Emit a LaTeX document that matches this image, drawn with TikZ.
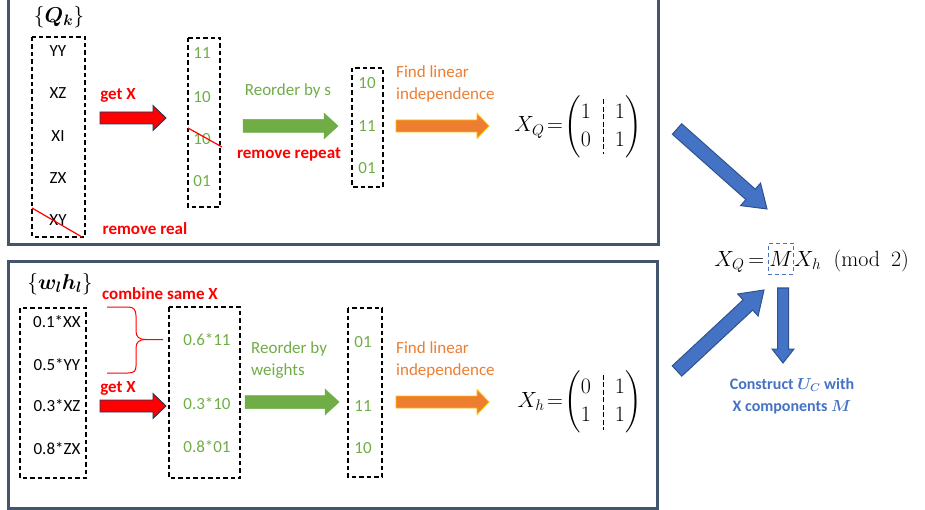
\RequirePackage{fix-cm}
\documentclass[tikz,border=0pt]{standalone}
\usepackage{amsmath}
\usepackage{bm}
\usepackage[no-math]{fontspec}
\setmainfont{Carlito}
\usetikzlibrary{calc}

\definecolor{frameC}{HTML}{44546A}
\definecolor{redC}{HTML}{FF0000}
\definecolor{greenC}{HTML}{70AD47}
\definecolor{orangeC}{HTML}{ED7D31}
\definecolor{blueC}{HTML}{4472C4}
\definecolor{blueEdge}{HTML}{2F528F}
\definecolor{navyEdge}{HTML}{203864}
\definecolor{goldEdge}{HTML}{FFC000}

% block arrow: #1 style, #2 tail, #3 tip, #4 half body width, #5 half head width, #6 head length
\newcommand\fatarrow[6]{%
  \coordinate (fa-p) at ($(#3)!#6!(#2)$);
  \filldraw[#1] ($(#2)!#4!90:(#3)$) -- ($(fa-p)!#4!90:(#3)$) -- ($(fa-p)!#5!90:(#3)$)
    -- (#3) -- ($(fa-p)!#5!-90:(#3)$) -- ($(fa-p)!#4!-90:(#3)$) -- ($(#2)!#4!-90:(#3)$) -- cycle;
}

\tikzset{
  frame/.style={draw=frameC, line width=3pt},
  listbox/.style={draw=black, dashed, line width=1.2pt, dash pattern=on 4.5pt off 3pt},
  item/.style={font=\fontsize{17}{22}\selectfont, text=black, inner sep=0pt},
  gitem/.style={item, text=greenC},
  redlbl/.style={font=\fontsize{17}{22}\selectfont\bfseries, text=redC, inner sep=0pt},
  greenlbl/.style={font=\fontsize{17}{22}\selectfont, text=greenC, inner sep=0pt, align=left},
  orangelbl/.style={font=\fontsize{17}{22}\selectfont, text=orangeC, inner sep=0pt, align=left},
  setlbl/.style={font=\fontsize{21.5}{26}\selectfont, inner sep=0pt},
  mathlbl/.style={font=\fontsize{22}{28}\selectfont, inner sep=0pt},
  strike/.style={draw=redC, line width=1.2pt},
  redarrow/.style={fill=redC, draw=navyEdge, line width=0.9pt},
  greenarrow/.style={fill=greenC, draw=greenC, line width=0.5pt},
  orangearrow/.style={fill=orangeC, draw=goldEdge, line width=0.8pt},
  bluearrow/.style={fill=blueC, draw=blueEdge, line width=1pt},
}

\begin{document}
\begin{tikzpicture}[x=1pt, y=-1pt]
\useasboundingbox (0,0) rectangle (925,510);

% ---------- outer frames ----------
\draw[frame] (8,-5) rectangle (658,245);
\draw[frame] (8,262) rectangle (657,508);

% ================= upper panel: {Q_k} =================
\node[setlbl] (qset) at (59,17) {$\{\bm{Q_k}\}$};

\draw[listbox] (32,37) rectangle (85,237);
\node[item] (q1) at (58,51) {YY};
\node[item] (q2) at (58,93) {XZ};
\node[item] (q3) at (58,136) {XI};
\node[item] (q4) at (58,178) {ZX};
\node[item] (q5) at (58,220) {XY};
\draw[strike] (32,208) -- (82,237);
\node[redlbl] (rmreal) at (145,229) {remove real};

\node[redlbl] (getx1) at (118,95) {get X};
\coordinate (ra1a) at (100,118);
\coordinate (ra1b) at (166,118);
\fatarrow{redarrow}{ra1a}{ra1b}{6pt}{12.5pt}{13pt}

\draw[listbox] (188,38) rectangle (220,207);
\node[gitem] (x1) at (202,53) {11};
\node[gitem] (x2) at (202,97) {10};
\node[gitem] (x3) at (202,139) {10};
\node[gitem] (x4) at (202,181) {01};
\draw[strike] (188,128) -- (222,147);

\node[greenlbl] (reord1) at (288,91) {Reorder by s};
\node[redlbl] (rmrep) at (289,154) {remove repeat};
\coordinate (ga1a) at (243,126);
\coordinate (ga1b) at (338,126);
\fatarrow{greenarrow}{ga1a}{ga1b}{6.5pt}{13pt}{14pt}

\draw[listbox] (352,68) rectangle (383,187);
\node[gitem] (s1) at (367,83) {10};
\node[gitem] (s2) at (367,126) {11};
\node[gitem] (s3) at (367,168) {01};

\node[orangelbl, anchor=west] (lin1) at (396,84) {Find linear\\independence};
\coordinate (oa1a) at (396,126);
\coordinate (oa1b) at (489,126);
\fatarrow{orangearrow}{oa1a}{oa1b}{6pt}{12.5pt}{12pt}

\node[mathlbl] (mq) at (603,126.5)
  {$\setlength\arraycolsep{12pt}\begin{pmatrix}1&1\\0&1\end{pmatrix}$};
\node[mathlbl, anchor=base east] (xq) at (mq.base west) {$X_Q\mkern-3mu=\mkern1mu$};
\draw[dashed, line width=0.8pt, dash pattern=on 5pt off 2.5pt]
  ($(mq.center)+(0,-27)$) -- ($(mq.center)+(0,28)$);

% ================= lower panel: {w_l h_l} =================
\node[setlbl] (wset) at (60,284) {$\{\bm{w_l h_l}\}$};
\node[redlbl] (comb) at (160,294) {combine same X};

\draw[listbox] (20,308) rectangle (86,478);
\node[item] (h1) at (57,322) {0.1*XX};
\node[item] (h2) at (57,365) {0.5*YY};
\node[item] (h3) at (57,406) {0.3*XZ};
\node[item] (h4) at (57,449) {0.8*ZX};

% brace grouping the first two terms
\draw[draw=redC, line width=1pt]
  (107,307) -- (128,307) .. controls (134,307) and (136,310) .. (136,316)
  -- (136,331) .. controls (136,337) and (139,339.5) .. (146,339.5) -- (163,339.5);
\draw[draw=redC, line width=1pt]
  (146,339.5) .. controls (139,339.5) and (136,342) .. (136,348)
  -- (136,366) .. controls (136,371) and (134,373) .. (128,373) -- (107,373);

\node[redlbl] (getx2) at (118,388) {get X};
\coordinate (ra2a) at (100,406);
\coordinate (ra2b) at (166,406);
\fatarrow{redarrow}{ra2a}{ra2b}{6pt}{12.5pt}{13pt}

\draw[listbox] (169,307) rectangle (240,478);
\node[gitem] (c1) at (207,340) {0.6*11};
\node[gitem] (c2) at (207,404) {0.3*10};
\node[gitem] (c3) at (207,447) {0.8*01};

\node[greenlbl, anchor=west] (reord2) at (251,360.5) {Reorder by\\weights};
\coordinate (ga2a) at (245,402);
\coordinate (ga2b) at (339,402);
\fatarrow{greenarrow}{ga2a}{ga2b}{6.5pt}{13pt}{14pt}

\draw[listbox] (348,308) rectangle (382,477);
\node[gitem] (w1) at (363,342) {01};
\node[gitem] (w2) at (363,406) {11};
\node[gitem] (w3) at (363,448) {10};

\node[orangelbl, anchor=west] (lin2) at (396,360) {Find linear\\independence};
\coordinate (oa2a) at (396,402);
\coordinate (oa2b) at (489,402);
\fatarrow{orangearrow}{oa2a}{oa2b}{6pt}{12.5pt}{12pt}

\node[mathlbl] (mh) at (603,401.5)
  {$\setlength\arraycolsep{12pt}\begin{pmatrix}0&1\\1&1\end{pmatrix}$};
\node[mathlbl, anchor=base east] (xh) at (mh.base west) {$X_h\mkern-3mu=\mkern1mu$};
\draw[dashed, line width=0.8pt, dash pattern=on 5pt off 2.5pt]
  ($(mh.center)+(0,-27)$) -- ($(mh.center)+(0,28)$);

% ================= right column: combining relation =================
\node[mathlbl, draw=blueC, dashed, line width=0.9pt, dash pattern=on 4pt off 3pt,
      minimum height=31pt, inner xsep=1pt] (eqM) at (781,258.5) {$M$};
\node[mathlbl, anchor=base east] (eqL) at (eqM.base west) {$X_Q\mkern-2mu=\mkern3mu$};
\node[mathlbl, anchor=base west] (eqR) at (eqM.base east)
  {$X_h\mkern10mu(\mathrm{mod}\mkern9mu 2)$};

\coordinate (ba1a) at (677,129);
\coordinate (ba1b) at (767,209);
\fatarrow{bluearrow}{ba1a}{ba1b}{7pt}{15pt}{22pt}

\coordinate (ba2a) at (677,371);
\coordinate (ba2b) at (764,290);
\fatarrow{bluearrow}{ba2a}{ba2b}{7pt}{15pt}{22pt}

\coordinate (ba3a) at (783,288);
\coordinate (ba3b) at (783,363);
\fatarrow{bluearrow}{ba3a}{ba3b}{5.5pt}{11pt}{14pt}

\node[font=\fontsize{16}{22}\selectfont\bfseries, text=blueC, align=center, inner sep=0pt]
  (uc) at (792,396) {Construct $\bm{U_C}$ with\\X components $\bm{M}$};
\end{tikzpicture}
\end{document}
